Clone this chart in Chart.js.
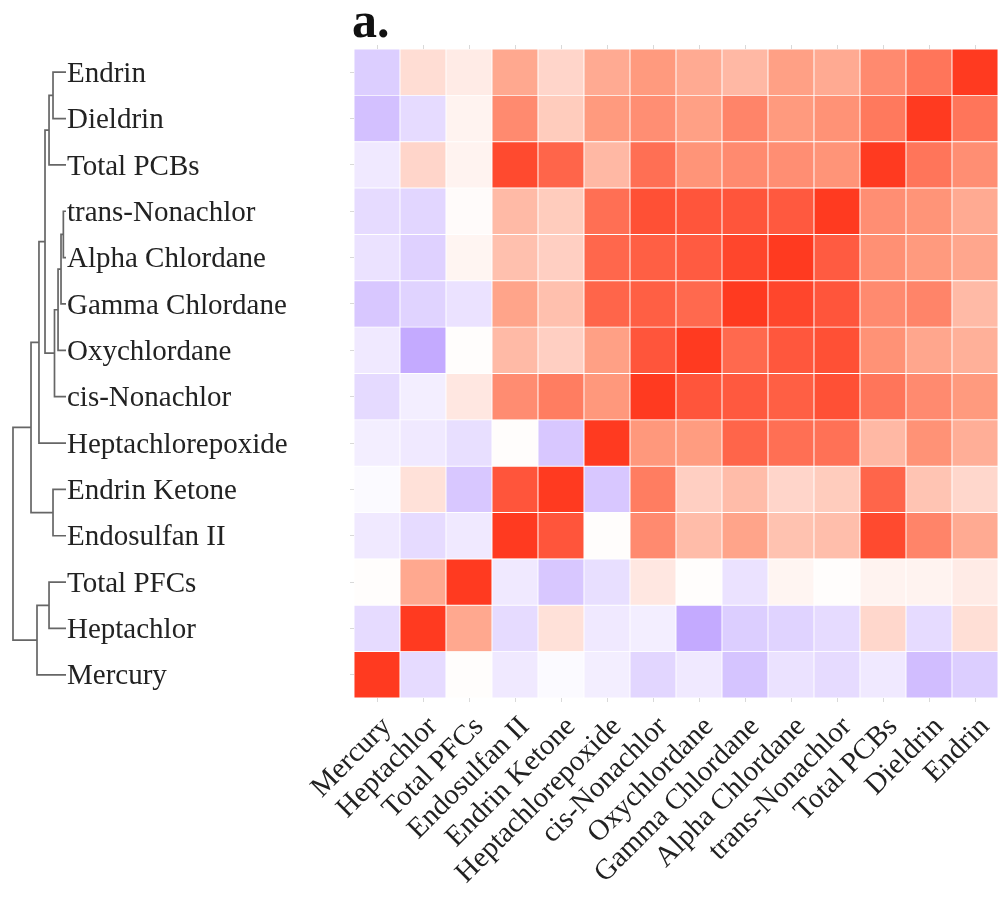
<!DOCTYPE html>
<html>
<head>
<meta charset="utf-8">
<script src="https://cdn.jsdelivr.net/npm/chart.js@4.4.1/dist/chart.umd.min.js"></script>
<style>
  html, body { margin: 0; padding: 0; background: #ffffff; }
  #wrap { position: relative; width: 1001px; height: 902px; overflow: hidden; }
  #heat { position: absolute; left: 0; top: 0; }
  #dendro { position: absolute; left: 0; top: 0; }
  #panel { position: absolute; left: 352px; top: -5px; font: bold 50px/50px 'Liberation Serif', 'Times New Roman', serif; color: #111; }
</style>
</head>
<body>
<div id="wrap">
  <canvas id="heat" width="1001" height="902"></canvas>
  <canvas id="dendro" width="66" height="902"></canvas>
  <div id="panel">a.</div>
</div>
<script>
// Column (x) categories, left to right
const colLabels = ['Mercury','Heptachlor','Total PFCs','Endosulfan II','Endrin Ketone','Heptachlorepoxide','cis-Nonachlor','Oxychlordane','Gamma Chlordane','Alpha Chlordane','trans-Nonachlor','Total PCBs','Dieldrin','Endrin'];
// Row (y) categories, top to bottom
const rowLabels = ['Endrin','Dieldrin','Total PCBs','trans-Nonachlor','Alpha Chlordane','Gamma Chlordane','Oxychlordane','cis-Nonachlor','Heptachlorepoxide','Endrin Ketone','Endosulfan II','Total PFCs','Heptachlor','Mercury'];

// Correlation values per row (columns in colLabels order)
const rEndrin            = [-0.29, 0.17, 0.10, 0.44, 0.21, 0.43, 0.51, 0.43, 0.36, 0.48, 0.43, 0.59, 0.70, 1.00];
const rDieldrin          = [-0.37,-0.21, 0.06, 0.59, 0.26, 0.51, 0.57, 0.48, 0.62, 0.51, 0.55, 0.68, 1.00, 0.70];
const rTotalPCBs         = [-0.13, 0.21, 0.06, 0.92, 0.78, 0.36, 0.73, 0.54, 0.59, 0.57, 0.54, 1.00, 0.70, 0.57];
const rTransNonachlor    = [-0.21,-0.24, 0.02, 0.35, 0.26, 0.73, 0.89, 0.86, 0.86, 0.84, 1.00, 0.57, 0.54, 0.43];
const rAlphaChlordane    = [-0.17,-0.27, 0.05, 0.32, 0.24, 0.77, 0.81, 0.83, 0.94, 1.00, 0.83, 0.56, 0.51, 0.45];
const rGammaChlordane    = [-0.33,-0.26,-0.17, 0.46, 0.32, 0.78, 0.81, 0.76, 1.00, 0.94, 0.86, 0.59, 0.62, 0.35];
const rOxychlordane      = [-0.13,-0.50, 0.01, 0.35, 0.24, 0.48, 0.86, 1.00, 0.76, 0.85, 0.89, 0.55, 0.45, 0.40];
const rCisNonachlor      = [-0.22,-0.10, 0.12, 0.58, 0.66, 0.52, 1.00, 0.86, 0.84, 0.81, 0.89, 0.70, 0.59, 0.51];
const rHeptachlorepoxide = [-0.10,-0.13,-0.19, 0.01,-0.33, 1.00, 0.52, 0.50, 0.78, 0.73, 0.72, 0.36, 0.55, 0.41];
const rEndrinKetone      = [-0.03, 0.15,-0.33, 0.86, 1.00,-0.33, 0.66, 0.24, 0.34, 0.21, 0.26, 0.78, 0.30, 0.20];
const rEndosulfanII      = [-0.13,-0.21,-0.13, 1.00, 0.86, 0.01, 0.59, 0.34, 0.46, 0.31, 0.33, 0.92, 0.62, 0.43];
const rTotalPFCs         = [ 0.01, 0.44, 1.00,-0.13,-0.33,-0.19, 0.12, 0.01,-0.17, 0.05, 0.01, 0.06, 0.06, 0.10];
const rHeptachlor        = [-0.21, 1.00, 0.44,-0.21, 0.15,-0.13,-0.10,-0.50,-0.29,-0.26,-0.21, 0.20,-0.21, 0.16];
const rMercury           = [ 1.00,-0.21, 0.01,-0.13,-0.03,-0.10,-0.24,-0.13,-0.35,-0.17,-0.21,-0.13,-0.39,-0.29];

const rowValues = [rEndrin, rDieldrin, rTotalPCBs, rTransNonachlor, rAlphaChlordane, rGammaChlordane,
  rOxychlordane, rCisNonachlor, rHeptachlorepoxide, rEndrinKetone, rEndosulfanII, rTotalPFCs, rHeptachlor, rMercury];

// Dendrogram merges: [childA, childB, height]; leaves 0..13 = rowLabels index, new nodes 14..
const dendroMerges = [
  [0, 1, 0.245],   // 14 Endrin + Dieldrin
  [14, 2, 0.32],   // 15 + Total PCBs
  [3, 4, 0.05],    // 16 trans-Nonachlor + Alpha Chlordane
  [16, 5, 0.094],  // 17 + Gamma Chlordane
  [17, 6, 0.15],   // 18 + Oxychlordane
  [18, 7, 0.217],  // 19 + cis-Nonachlor
  [15, 19, 0.396], // 20
  [20, 8, 0.51],   // 21 + Heptachlorepoxide
  [9, 10, 0.245],  // 22 Endrin Ketone + Endosulfan II
  [21, 22, 0.66],  // 23
  [11, 12, 0.32],  // 24 Total PFCs + Heptachlor
  [24, 13, 0.547], // 25 + Mercury
  [23, 25, 1.0]    // 26 root
];

function mix(a, b, t) { return a.map((v, i) => Math.round(v + (b[i] - v) * t)); }
function cellColor(v) {
  const white = [255, 255, 255], mid = [255, 156, 128], red = [255, 58, 32], purple = [136, 85, 255];
  let c;
  if (v >= 0) {
    const t = Math.min(v, 1);
    c = t <= 0.5 ? mix(white, mid, t / 0.5) : mix(mid, red, (t - 0.5) / 0.5);
  } else {
    c = mix(white, purple, Math.min(-v, 1));
  }
  return 'rgb(' + c.join(',') + ')';
}

const serif = "'Liberation Serif', 'Times New Roman', serif";
const nRows = rowLabels.length;

// Heatmap: stacked unit bars, first dataset = bottom row
const heatDatasets = [];
for (let k = 0; k < nRows; k++) {
  const r = nRows - 1 - k;
  heatDatasets.push({
    label: rowLabels[r],
    data: colLabels.map(() => 1),
    backgroundColor: rowValues[r].map(cellColor),
    borderColor: 'rgba(255,255,255,0.75)',
    borderWidth: 0.8,
    borderSkipped: false,
    barPercentage: 1,
    categoryPercentage: 1,
    xAxisID: 'x',
    yAxisID: 'y'
  });
}

const tickGrid = { display: true, drawOnChartArea: false, drawTicks: true, tickLength: 4, color: '#d9d9d9', offset: false, lineWidth: 1 };

new Chart(document.getElementById('heat'), {
  type: 'bar',
  data: { labels: colLabels, datasets: heatDatasets },
  options: {
    responsive: false,
    animation: false,
    layout: { padding: { left: 67, top: 43, right: 3, bottom: 0 } },
    plugins: { legend: { display: false }, tooltip: { enabled: false } },
    scales: {
      x: {
        type: 'category', position: 'bottom', stacked: true, offset: true,
        grid: tickGrid, border: { display: false },
        ticks: { autoSkip: false, minRotation: 45, maxRotation: 45, padding: 8, labelOffset: 10, color: '#222', font: { family: serif, size: 29 } },
        afterFit: s => { s.height = 204; s.paddingRight = 0; s.paddingLeft = 0; }
      },
      xt: {
        type: 'category', position: 'top', labels: colLabels, offset: true,
        grid: tickGrid, border: { display: false },
        ticks: { display: false },
        afterFit: s => { s.height = 6; s.paddingRight = 0; s.paddingLeft = 0; }
      },
      y: { type: 'linear', stacked: true, min: 0, max: nRows, display: false },
      yl: {
        type: 'category', position: 'left', labels: rowLabels, offset: true,
        grid: tickGrid, border: { display: false },
        ticks: { crossAlign: 'far', labelOffset: 2, color: '#222', font: { family: serif, size: 29 } },
        afterFit: s => { s.width = 287; s.paddingTop = 0; s.paddingBottom = 0; }
      }
    }
  }
});

// Dendrogram
const leafY = rowLabels.map((_, i) => nRows - 0.5 - i);
const nodePos = rowLabels.map((_, i) => ({ h: 0, y: leafY[i] }));
const dendroDatasets = dendroMerges.map(([a, b, h]) => {
  const A = nodePos[a], B = nodePos[b];
  nodePos.push({ h: h, y: (A.y + B.y) / 2 });
  return {
    data: [{ x: A.h, y: A.y }, { x: h, y: A.y }, { x: h, y: B.y }, { x: B.h, y: B.y }],
    showLine: true, borderColor: '#666666', borderWidth: 1.7, pointRadius: 0,
    clip: false, tension: 0
  };
});

new Chart(document.getElementById('dendro'), {
  type: 'scatter',
  data: { datasets: dendroDatasets },
  options: {
    responsive: false,
    animation: false,
    layout: { padding: { left: 0, right: 0, top: 49, bottom: 204 } },
    plugins: { legend: { display: false }, tooltip: { enabled: false } },
    scales: {
      x: { type: 'linear', reverse: true, min: 0, max: 1.245, display: false },
      y: { type: 'linear', min: 0, max: nRows, display: false }
    }
  }
});
</script>
</body>
</html>
